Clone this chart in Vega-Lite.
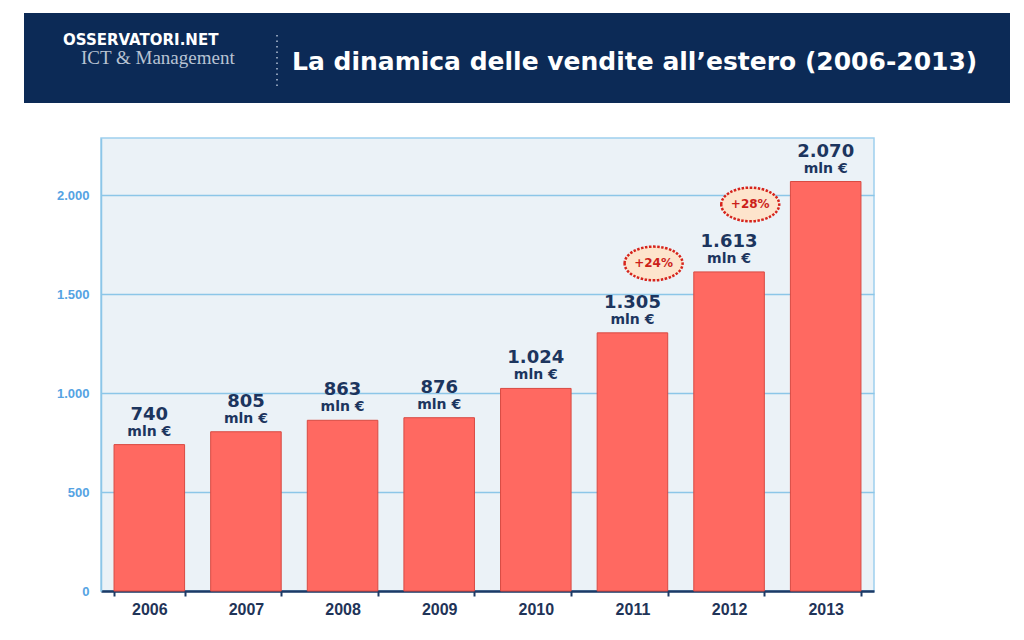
{
  "$schema": "https://vega.github.io/schema/vega-lite/v6.json",
  "background": "white",
  "padding": {"left": 23, "top": 13, "right": 0, "bottom": 0},
  "spacing": 34,
  "config": {
    "locale": {"number": {"decimal": ",", "thousands": ".", "grouping": [3], "currency": ["", " €"]}},
    "font": "Liberation Sans"
  },
  "vconcat": [
    {
      "width": 909,
      "height": 90,
      "view": {"stroke": null},
      "layer": [
        {
          "data": {"values": [{"part": "banner"}]},
          "mark": {"type": "rect", "color": "#0c2a56"},
          "encoding": {
            "x": {"datum": -77, "type": "quantitative", "scale": {"domain": [0, 909], "nice": false, "zero": false}, "axis": null},
            "x2": {"datum": 909},
            "y": {"datum": 0, "type": "quantitative", "scale": {"domain": [0, 90], "reverse": true, "nice": false}, "axis": null},
            "y2": {"datum": 90}
          }
        },
        {
          "data": {"values": [{"label": "La dinamica delle vendite all’estero (2006-2013)"}]},
          "mark": {"type": "text", "align": "left", "baseline": "middle", "font": "DejaVu Sans", "fontWeight": "bold", "fontSize": 25, "color": "white"},
          "encoding": {
            "text": {"field": "label"},
            "x": {"datum": 191, "type": "quantitative"},
            "y": {"datum": 49, "type": "quantitative"}
          }
        },
        {
          "data": {"values": [{"label": "OSSERVATORI.NET"}]},
          "mark": {"type": "text", "align": "left", "baseline": "middle", "font": "DejaVu Sans", "fontWeight": "bold", "fontSize": 15, "color": "white"},
          "encoding": {
            "text": {"field": "label"},
            "x": {"datum": -38, "type": "quantitative"},
            "y": {"datum": 27, "type": "quantitative"}
          }
        },
        {
          "data": {"values": [{"label": "ICT & Management"}]},
          "mark": {"type": "text", "align": "left", "baseline": "middle", "font": "Liberation Serif", "fontSize": 19, "color": "#b8c3d3"},
          "encoding": {
            "text": {"field": "label"},
            "x": {"datum": -20, "type": "quantitative"},
            "y": {"datum": 45, "type": "quantitative"}
          }
        },
        {
          "data": {"values": [{"part": "separator"}]},
          "mark": {"type": "rule", "color": "#8a9bb5", "strokeWidth": 2, "strokeDash": [1.5, 4]},
          "encoding": {
            "x": {"datum": 176, "type": "quantitative"},
            "y": {"datum": 22, "type": "quantitative"},
            "y2": {"datum": 76}
          }
        }
      ]
    },
    {
      "width": 773,
      "height": 453,
      "view": {"fill": "#ebf2f7", "stroke": "#9fd0ee", "strokeWidth": 1.5},
      "data": {
        "values": [
          {"year": "2006", "value": 740},
          {"year": "2007", "value": 805},
          {"year": "2008", "value": 863},
          {"year": "2009", "value": 876},
          {"year": "2010", "value": 1024},
          {"year": "2011", "value": 1305},
          {"year": "2012", "value": 1613},
          {"year": "2013", "value": 2070}
        ]
      },
      "encoding": {
        "x": {
          "field": "year", "type": "nominal",
          "scale": {"paddingInner": 0.27, "paddingOuter": 0.135},
          "axis": {
            "title": null, "labelAngle": 0, "domainColor": "#1c3a66", "domainWidth": 2.5,
            "tickColor": "#1c3a66", "tickWidth": 2, "tickSize": 5, "tickBand": "extent",
            "labelFont": "Liberation Sans", "labelFontWeight": "bold", "labelFontSize": 16,
            "labelColor": "#1f3458", "labelPadding": 5
          }
        },
        "y": {
          "field": "value", "type": "quantitative",
          "scale": {"domain": [0, 2290], "nice": false},
          "axis": {
            "title": null, "values": [0, 500, 1000, 1500, 2000], "format": ",d",
            "grid": true, "gridColor": "#8cc6e8", "gridWidth": 1.5,
            "domainColor": "#8cc6e8", "domainWidth": 1.5, "ticks": false,
            "labelFont": "Liberation Sans", "labelFontWeight": "bold", "labelFontSize": 13,
            "labelColor": "#55a3e3", "labelPadding": 12, "minExtent": 77, "maxExtent": 77
          }
        }
      },
      "layer": [
        {"mark": {"type": "bar", "fill": "#ff6961", "stroke": "#d84a42", "strokeWidth": 1}},
        {
          "mark": {"type": "text", "baseline": "alphabetic", "dy": -25, "font": "DejaVu Sans", "fontWeight": "bold", "fontSize": 18, "color": "#1c355e"},
          "encoding": {"text": {"field": "value", "type": "quantitative", "format": ",d"}}
        },
        {
          "mark": {"type": "text", "baseline": "alphabetic", "dy": -9, "font": "DejaVu Sans", "fontWeight": "bold", "fontSize": 14, "color": "#1c355e", "text": "mln €"}
        },
        {
          "data": {
            "values": [
              {"prev": "2011", "growth": "+24%", "at": 1656},
              {"prev": "2012", "growth": "+28%", "at": 1954}
            ]
          },
          "encoding": {
            "x": {"field": "prev", "type": "nominal", "bandPosition": 0.8},
            "y": {"field": "at", "type": "quantitative"}
          },
          "layer": [
            {
              "mark": {
                "type": "point", "filled": true,
                "shape": "M -1 0 A 1 0.58 0 1 1 1 0 A 1 0.58 0 1 1 -1 0 Z",
                "size": 3364, "fill": "#fde4cc", "fillOpacity": 1,
                "stroke": "#d6241c", "strokeWidth": 2.5, "strokeDash": [2.5, 1.5], "strokeOpacity": 1
              }
            },
            {
              "mark": {"type": "text", "baseline": "middle", "font": "DejaVu Sans", "fontWeight": "bold", "fontSize": 12, "color": "#cc1f1a"},
              "encoding": {"text": {"field": "growth"}}
            }
          ]
        }
      ]
    }
  ]
}
